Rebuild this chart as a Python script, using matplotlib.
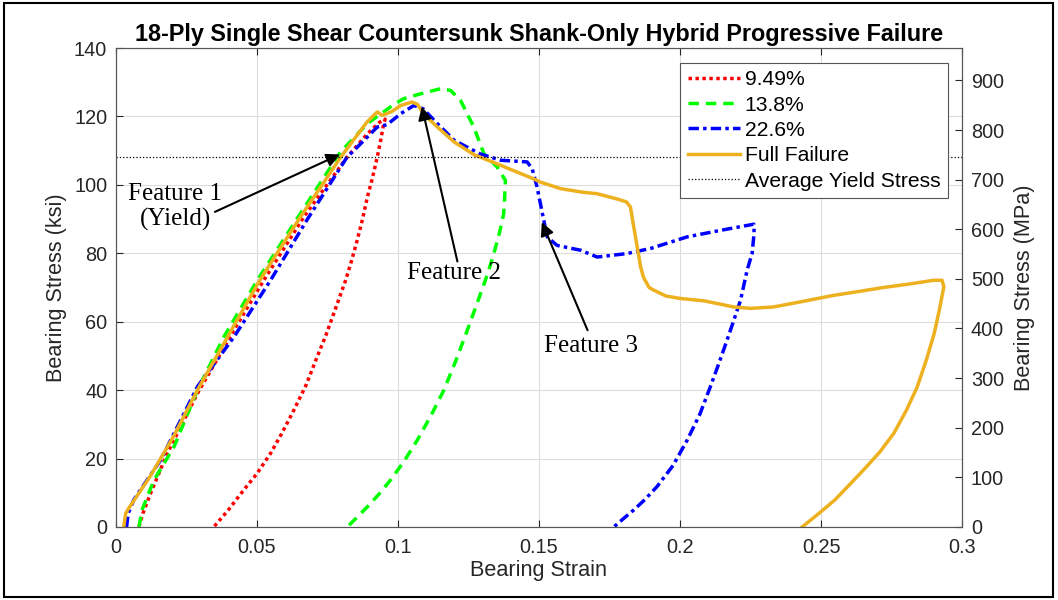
import numpy as np
import matplotlib.pyplot as plt
from matplotlib.patches import Rectangle

plt.rcParams['font.family'] = ['Liberation Sans', 'DejaVu Sans']

KSI_TO_MPA = 6.894757

# bearing strain / bearing stress (ksi) for each interrupted test
strain_949 = [0.0083, 0.0097, 0.0124, 0.0183, 0.029, 0.0419, 0.0525, 0.067, 0.082, 0.0892,
              0.0935, 0.0955, 0.095, 0.0938, 0.0927, 0.091, 0.0892, 0.0875, 0.0856, 0.0836,
              0.0815, 0.0773, 0.0745, 0.0714, 0.0675, 0.0632, 0.059, 0.0549, 0.05, 0.0454,
              0.04, 0.0348]
stress_949 = [0, 4, 9.8, 21.5, 39, 57.5, 72.1, 91, 108.1, 114.9,
              118.3, 119.2, 117.9, 112.5, 108.1, 102, 96.4, 90, 83.8, 77.8,
              72.1, 62.4, 56, 49.7, 41.5, 34.2, 27.5, 21.5, 15.5, 10.8,
              5, 0]

strain_138 = [0.0083, 0.0094, 0.0136, 0.0207, 0.029, 0.0384, 0.0502, 0.065, 0.0797, 0.0892,
              0.0986, 0.1021, 0.108, 0.1151, 0.1187, 0.1222, 0.1269, 0.1305, 0.1352, 0.1381,
              0.1378, 0.1375, 0.136, 0.134, 0.1318, 0.1293, 0.1246, 0.1205, 0.1163, 0.1117,
              0.1069, 0.1022, 0.0974, 0.0932, 0.0892, 0.0855, 0.0821]
stress_138 = [0, 5, 13.7, 23.4, 40, 55.6, 72.1, 91, 109.6, 117.9,
              123.5, 125.2, 126.6, 128.1, 127.6, 124.7, 116.9, 109.1, 105.2, 101.3,
              96, 91.6, 86, 79.9, 74, 68.2, 57.5, 48.5, 40, 32.5,
              25.4, 19.2, 13.7, 9.5, 5.9, 2.8, 0]

strain_226 = [0.0039, 0.0045, 0.0065, 0.016, 0.029, 0.042, 0.0549, 0.068, 0.082, 0.0844,
              0.0927, 0.0962, 0.101, 0.1057, 0.109, 0.114, 0.12, 0.129, 0.1364, 0.1458,
              0.1476, 0.1493, 0.1517, 0.1529, 0.1564, 0.1647, 0.1706, 0.181, 0.1895, 0.2025,
              0.2143, 0.2261, 0.2262, 0.2255, 0.2237, 0.2214, 0.219, 0.2166, 0.2138, 0.2107,
              0.207, 0.2025, 0.1975, 0.1918, 0.1875, 0.1836, 0.18, 0.1765]
stress_226 = [0, 4, 8, 19.6, 41, 55.6, 72.1, 90, 108.1, 110,
              116.9, 117.6, 120.8, 123.2, 122.2, 117.9, 113, 109.1, 107.2, 106.7,
              104.7, 99.4, 89.6, 84.8, 82.3, 80.9, 78.9, 79.9, 81.4, 84.8,
              86.7, 88.5, 86, 80, 75, 66.3, 60.4, 54.6, 48, 41,
              33, 25.4, 18, 11.8, 8, 5, 2.5, 0]

strain_full = [0.0029, 0.0036, 0.0047, 0.0122, 0.0205, 0.029, 0.040, 0.051, 0.065, 0.0797,
               0.089, 0.0927, 0.0945, 0.098, 0.101, 0.105, 0.107, 0.109, 0.114, 0.12,
               0.127, 0.135, 0.1435, 0.148, 0.1505, 0.1576, 0.165, 0.1706, 0.178, 0.181,
               0.1824, 0.1835, 0.1848, 0.186, 0.187, 0.189, 0.1907, 0.195, 0.2, 0.2084,
               0.215, 0.219, 0.225, 0.233, 0.2426, 0.2544, 0.263, 0.272, 0.281, 0.2898,
               0.2928, 0.2934, 0.2918, 0.29, 0.2872, 0.284, 0.2802, 0.2757, 0.2708, 0.266,
               0.2605, 0.2548, 0.2492, 0.2432]
stress_full = [0, 4, 5.5, 14.7, 26.4, 40, 56, 72, 90, 108,
               118.3, 121.3, 120.3, 121.5, 123.2, 124.2, 123.5, 120.8, 116.9, 112.5,
               108.8, 106.2, 103.3, 101.8, 100.8, 98.9, 97.9, 97.4, 95.8, 95,
               93.5, 88, 81.8, 76, 73, 70, 69.2, 67.5, 66.8, 66.1,
               65, 64.3, 63.9, 64.3, 65.8, 67.7, 68.8, 70, 71, 72.1,
               72.1, 70.2, 63.4, 56.6, 48.8, 41, 34.2, 27.4, 22, 17.6,
               12.8, 7.9, 4, 0]

avg_yield = 108.0

fig = plt.figure(figsize=(10.58, 6.0), dpi=100)
ax = fig.add_axes([0.1092, 0.1217, 0.8005, 0.7983])

ax.plot(strain_949, stress_949, color='#FF0000', lw=2.5, dashes=(1, 1), label='9.49%')
ax.plot(strain_138, stress_138, color='#00FF00', lw=2.5, dashes=(3, 2), label='13.8%')
ax.plot(strain_226, stress_226, color='#0000FF', lw=2.5, dashes=(3, 1.2, 1, 1.2), label='22.6%')
ax.plot(strain_full, stress_full, color='#EDB120', lw=2.5, label='Full Failure')
ax.axhline(avg_yield, color='k', lw=0.9, ls=':', label='Average Yield Stress')

ax.set_xlim(0, 0.3)
ax.set_ylim(0, 140)
ax.set_xticks([0, 0.05, 0.1, 0.15, 0.2, 0.25, 0.3])
ax.set_xticklabels(['0', '0.05', '0.1', '0.15', '0.2', '0.25', '0.3'])
ax.set_yticks(np.arange(0, 141, 20))
ax.grid(True, color='#dcdcdc', lw=0.8)
ax.set_axisbelow(True)

dark = '#262626'
ax.tick_params(direction='in', length=5, colors=dark, labelsize=14.3, top=True, pad=6)
ax.tick_params(axis='x', pad=8)
for s in ax.spines.values():
    s.set_color('#555555')
    s.set_linewidth(0.8)

ax.set_xlabel('Bearing Strain', fontsize=15.6, color=dark, labelpad=2)
ax.set_ylabel('Bearing Stress (ksi)', fontsize=15.6, color=dark, labelpad=5)
ax.set_title('18-Ply Single Shear Countersunk Shank-Only Hybrid Progressive Failure',
             fontsize=16.8, fontweight='bold', pad=5)

ax2 = ax.twinx()
ax2.set_ylim(0, 140 * KSI_TO_MPA)
ax2.set_yticks(np.arange(0, 901, 100))
ax2.tick_params(direction='in', length=5, colors=dark, labelsize=14.3, pad=6)
ax2.set_ylabel('Bearing Stress (MPa)', fontsize=15.6, color=dark, labelpad=7)
for s in ax2.spines.values():
    s.set_color('#555555')
    s.set_linewidth(0.8)

leg = ax.legend(loc='upper right', fontsize=15.2, handlelength=2.5, labelspacing=0.3,
                borderaxespad=0.7, fancybox=False, framealpha=1, edgecolor='#555555',
                handletextpad=0.2, borderpad=0.35)
leg.get_frame().set_linewidth(0.8)

# feature callouts
serif = ['Liberation Serif', 'DejaVu Serif']
arrow = dict(arrowstyle='-|>', color='k', lw=1.5, mutation_scale=20, shrinkA=0, shrinkB=0)

ax.text(0.0211, 93.5, 'Feature 1\n(Yield)', family=serif, fontsize=18, ha='center',
        va='center', linespacing=1.15)
ax.annotate('', xy=(0.0795, 108.9), xytext=(0.0352, 92.1), arrowprops=arrow)

ax.text(0.1199, 74.2, 'Feature 2', family=serif, fontsize=18, ha='center', va='center')
ax.annotate('', xy=(0.1085, 122.9), xytext=(0.1211, 77.6), arrowprops=arrow)

ax.text(0.1684, 52.8, 'Feature 3', family=serif, fontsize=18, ha='center', va='center')
ax.annotate('', xy=(0.1510, 89.1), xytext=(0.1672, 57.5), arrowprops=arrow)

fig.patches.append(Rectangle((4 / 1058, 3 / 600), 1049 / 1058, 594 / 600, fill=False,
                             edgecolor='k', lw=1.5, transform=fig.transFigure))

fig.savefig('out.png', dpi=100)
